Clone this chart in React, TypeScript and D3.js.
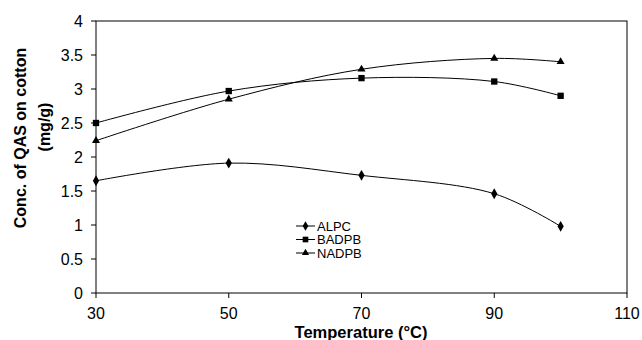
import React from "react";
import * as d3 from "d3";

const temps = [30, 50, 70, 90, 100];
const alpc = [1.65, 1.91, 1.73, 1.46, 0.98];
const badpb = [2.5, 2.97, 3.16, 3.11, 2.9];
const nadpb = [2.24, 2.85, 3.29, 3.45, 3.4];
const xTicks = [30, 50, 70, 90, 110];
const yTicks = [0, 0.5, 1, 1.5, 2, 2.5, 3, 3.5, 4];

const series = [
  { name: "ALPC", values: alpc, symbol: d3.symbolDiamond, size: 34 },
  { name: "BADPB", values: badpb, symbol: d3.symbolSquare, size: 40 },
  { name: "NADPB", values: nadpb, symbol: d3.symbolTriangle, size: 28 }
];

const W = 642,
  H = 340;
const margin = { top: 21, right: 15, bottom: 47, left: 96 };
const font = "Arial, 'Liberation Sans', sans-serif";

export default function App() {
  const x = d3
    .scaleLinear()
    .domain([30, 110])
    .range([margin.left, W - margin.right]);
  const y = d3
    .scaleLinear()
    .domain([0, 4])
    .range([H - margin.bottom, margin.top]);

  const line = d3
    .line<number>()
    .x((_, i) => x(temps[i]))
    .y(d => y(d))
    .curve(d3.curveCatmullRom.alpha(0.5));

  const x0 = x(30),
    x1 = x(110),
    y0 = y(0),
    y1 = y(4);

  return (
    <div style={{ position: "absolute", left: 0, top: 0 }}>
      <svg width={W} height={H} style={{ display: "block", background: "#fff" }}>
        {/* frame */}
        <rect x={x0} y={y1} width={x1 - x0} height={y0 - y1} fill="none" stroke="#000" strokeWidth={1} />

        {/* y axis */}
        {yTicks.map(t => (
          <g key={"y" + t}>
            <line x1={x0 - 5} x2={x0} y1={y(t)} y2={y(t)} stroke="#000" />
            <text x={x0 - 13} y={y(t)} dy="0.36em" textAnchor="end" fontFamily={font} fontSize={16}>
              {t}
            </text>
          </g>
        ))}

        {/* x axis */}
        {xTicks.map(t => (
          <g key={"x" + t}>
            <line x1={x(t)} x2={x(t)} y1={y0} y2={y0 + 5} stroke="#000" />
            <text x={x(t)} y={319} textAnchor="middle" fontFamily={font} fontSize={16}>
              {t}
            </text>
          </g>
        ))}

        <text x={361} y={338} textAnchor="middle" fontFamily={font} fontSize={16.5} fontWeight="bold">
          Temperature (°C)
        </text>
        <text
          transform="translate(26,138) rotate(-90)"
          textAnchor="middle"
          fontFamily={font}
          fontSize={16}
          fontWeight="bold"
        >
          Conc. of QAS on cotton
        </text>
        <text
          transform="translate(50,127) rotate(-90)"
          textAnchor="middle"
          fontFamily={font}
          fontSize={16}
          fontWeight="bold"
        >
          (mg/g)
        </text>

        {/* series */}
        {series.map(s => (
          <g key={s.name}>
            <path d={line(s.values) || ""} fill="none" stroke="#000" strokeWidth={1} />
            {s.values.map((v, i) => (
              <path
                key={i}
                d={d3.symbol().type(s.symbol).size(s.size)() || ""}
                transform={`translate(${x(temps[i])},${y(v)})`}
                fill="#000"
              />
            ))}
          </g>
        ))}

        {/* legend */}
        {series.map((s, i) => {
          const ly = 226 + i * 13.5;
          return (
            <g key={"lg" + s.name}>
              <line x1={296} x2={315} y1={ly} y2={ly} stroke="#000" />
              <path
                d={d3.symbol().type(s.symbol).size(s.size * 0.8)() || ""}
                transform={`translate(305.5,${ly})`}
                fill="#000"
              />
              <text x={317} y={ly} dy="0.36em" fontFamily={font} fontSize={13}>
                {s.name}
              </text>
            </g>
          );
        })}
      </svg>
    </div>
  );
}
